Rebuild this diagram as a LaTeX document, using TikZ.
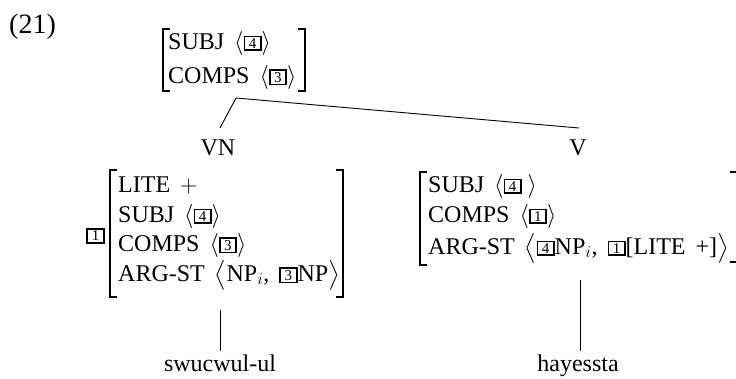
\documentclass[tikz,border=0pt]{standalone}
\usepackage{fix-cm}
\usepackage{amsmath}
\usepackage{fontspec}
\setmainfont{Liberation Serif}
\newcommand\tg[1]{{\setlength\fboxsep{1.2pt}\setlength\fboxrule{1.6pt}\raisebox{0.8pt}{\fbox{\makebox[12.5pt]{\fontsize{15}{15}\selectfont #1}}}}}
\begin{document}
\begin{tikzpicture}[x=1pt,y=-1pt,
  txt/.style={anchor=base west,inner sep=0pt,font=\fontsize{24}{28}\selectfont},
  ctxt/.style={anchor=base,inner sep=0pt,font=\fontsize{24}{28}\selectfont},
  brk/.style={line width=1.2pt},
  ln/.style={line width=0.9pt}]
\useasboundingbox (0,0) rectangle (736,378);
% example number
\node[txt,font=\fontsize{28}{32}\selectfont] (ex) at (9,33) {(21)};
% top AVM
\node[txt] (t1) at (168,49) {SUBJ \,$\langle\tg{4}\rangle$};
\node[txt] (t2) at (168,83) {COMPS \,$\langle\tg{3}\rangle$};
\draw[brk] (170,29) -- (163,29) -- (163,91) -- (170,91);
\draw[brk] (298,29) -- (305,29) -- (305,91) -- (298,91);
% tree labels
\node[ctxt] (vn) at (218,155) {VN};
\node[ctxt] (v) at (578,155) {V};
\coordinate (apex) at (236,98);
\coordinate (vnT) at (220,128);
\coordinate (vT) at (579,128);
\draw[ln] (vnT) -- (apex) -- (vT);
% left AVM
\node[inner sep=0pt] (tagL) at (95.5,236) {\tg{1}};
\node[txt] (l1) at (118,192) {LITE \,$+$};
\node[txt] (l2) at (118,222) {SUBJ \,$\langle\tg{4}\rangle$};
\node[txt] (l3) at (118,251) {COMPS \,$\langle\tg{3}\rangle$};
\node[txt] (l4) at (118,281) {ARG-ST \,$\bigl\langle$NP$_i$, \,\tg{3}NP$\bigr\rangle$};
\draw[brk] (117,170) -- (110,170) -- (110,297) -- (117,297);
\draw[brk] (336,170) -- (343,170) -- (343,297) -- (336,297);
% right AVM
\node[txt] (r1) at (428,192) {SUBJ \,$\langle\tg{4}$ $\rangle$};
\node[txt] (r2) at (428,222) {COMPS \,$\langle\tg{1}\rangle$};
\node[txt] (r3) at (428,254) {ARG-ST \,$\bigl\langle\tg{4}$NP$_i$, \,\tg{1}[LITE \,+]$\bigr\rangle$};
\draw[brk] (427,172) -- (420,172) -- (420,265) -- (427,265);
\draw[brk] (730,172) -- (737,172);
\draw[brk] (730,262) -- (737,262);
% words
\node[ctxt,inner sep=3pt] (w1) at (220,371) {swucwul-ul};
\node[ctxt,inner sep=3pt] (w2) at (578,371) {hayessta};
\coordinate (w1T) at (220,310);
\coordinate (w2T) at (580,280);
\draw[ln] (w1T) -- (w1T |- w1.north);
\draw[ln] (w2T) -- (w2T |- w2.north);
\end{tikzpicture}
\end{document}
